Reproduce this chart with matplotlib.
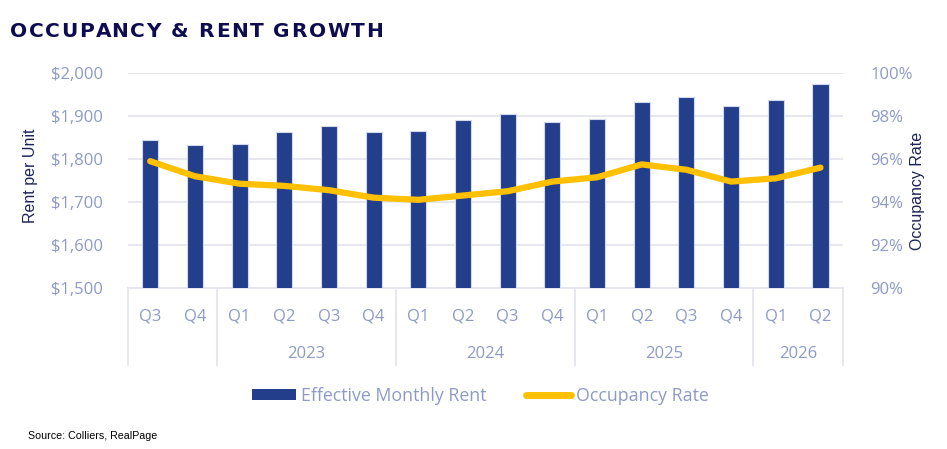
import matplotlib
matplotlib.use('Agg')
import matplotlib.pyplot as plt
from matplotlib.patches import Patch
from matplotlib.lines import Line2D
from matplotlib.ticker import FuncFormatter

# data
quarters = ['Q3', 'Q4', 'Q1', 'Q2', 'Q3', 'Q4', 'Q1', 'Q2', 'Q3', 'Q4',
            'Q1', 'Q2', 'Q3', 'Q4', 'Q1', 'Q2']
rent = [1844, 1833, 1836, 1862, 1877, 1862, 1866, 1891,
        1906, 1887, 1894, 1934, 1945, 1923, 1938, 1974]
occupancy = [95.9, 95.2, 94.85, 94.75, 94.55, 94.2, 94.1, 94.3,
             94.5, 94.95, 95.15, 95.75, 95.5, 94.95, 95.1, 95.6]
years = ['2023', '2024', '2025', '2026']
year_start = [2, 6, 10, 14]
year_end = [5, 9, 13, 15]

bar_color = '#233F8C'
line_color = '#FFC000'
tick_color = '#8D9AC6'
grid_color = '#E4E5EE'
label_color = '#1B2456'

fig = plt.figure(figsize=(9.47, 4.49), dpi=100)
ax = fig.add_axes([0.135, 0.359, 0.755, 0.478])
ax2 = ax.twinx()

x = list(range(len(quarters)))
ax.bar(x, rent, width=0.36, bottom=0, color=bar_color,
       edgecolor='#D3D8EA', linewidth=0.8, zorder=2)
ax.set_xlim(-0.5, len(quarters) - 0.5)
ax.set_ylim(1500, 2000)
ax.set_yticks(range(1500, 2001, 100))
ax.yaxis.set_major_formatter(FuncFormatter(lambda v, p: '${:,.0f}'.format(v)))
ax.yaxis.grid(True, color=grid_color, linewidth=1.3, zorder=0)
ax.set_axisbelow(True)

ax2.plot(x, occupancy, color=line_color, linewidth=4.5,
         solid_joinstyle='round', solid_capstyle='round', zorder=3)
ax2.set_ylim(90, 100)
ax2.set_yticks(range(90, 101, 2))
ax2.yaxis.set_major_formatter(FuncFormatter(lambda v, p: '{:.0f}%'.format(v)))

for a in (ax, ax2):
    for s in a.spines.values():
        s.set_visible(False)
    a.tick_params(axis='y', length=0, labelsize=12, labelcolor=tick_color)
    for lab in a.get_yticklabels():
        lab.set_fontfamily('Open Sans')
ax.tick_params(axis='y', pad=18)
ax2.tick_params(axis='y', pad=20)

ax.set_xticks(x)
ax.set_xticklabels(quarters, fontfamily='Open Sans')
ax.tick_params(axis='x', length=0, pad=15, labelsize=12, labelcolor=tick_color)

# category axis box with year separators
tr = ax.get_xaxis_transform()
ax.plot([-0.5, len(quarters) - 0.5], [0, 0], color=grid_color, lw=1.3,
        transform=tr, clip_on=False, zorder=1)
for sep in [-0.5, 1.5, 5.5, 9.5, 13.5, 15.5]:
    ax.plot([sep, sep], [0, -0.36], color=grid_color, lw=1.3,
            transform=tr, clip_on=False)
for yr, s, e in zip(years, year_start, year_end):
    ax.text((s + e) / 2, -0.307, yr, transform=tr, ha='center', va='center',
            fontsize=12, color=tick_color, fontfamily='Open Sans')

fig.text(0.032, 0.608, 'Rent per Unit', rotation=90, ha='center', va='center',
         fontsize=11.5, color=label_color, fontfamily='Liberation Sans')
fig.text(0.969, 0.574, 'Occupancy Rate', rotation=90, ha='center', va='center',
         fontsize=11.5, color=label_color, fontfamily='Liberation Sans')

# title with letter spacing: place each character by measuring the prefix
title = 'OCCUPANCY & RENT GROWTH'
title_kw = dict(fontsize=14.5, fontweight='bold', color='#0E0C50',
                fontfamily='DejaVu Sans', va='center', ha='left')
renderer = fig.canvas.get_renderer()
x0_px, track_px = 10, 1.6
for i, ch in enumerate(title):
    if i == 0:
        w = 0
    else:
        probe = fig.text(0, 0, title[:i] + '|', **title_kw)
        bar_probe = fig.text(0, 0, '|', **title_kw)
        w = probe.get_window_extent(renderer).width - bar_probe.get_window_extent(renderer).width
        probe.remove()
        bar_probe.remove()
    if ch != ' ':
        fig.text((x0_px + w + i * track_px) / fig.bbox.width, 0.929, ch, **title_kw)

handles = [Patch(facecolor=bar_color, edgecolor='none', label='Effective Monthly Rent'),
           Line2D([0], [0], color=line_color, lw=5, solid_capstyle='round',
                  label='Occupancy Rate')]
leg = fig.legend(handles=handles, loc='center', bbox_to_anchor=(0.507, 0.118),
                 ncol=2, frameon=False, handlelength=2.5, handleheight=0.6,
                 handletextpad=0.3, columnspacing=2.2,
                 prop={'family': 'Open Sans', 'size': 12.8})
for t in leg.get_texts():
    t.set_color(tick_color)

fig.text(0.03, 0.029, 'Source: Colliers, RealPage', ha='left', va='center',
         fontsize=7.7, color='black', fontfamily='Liberation Sans')

fig.savefig('out.png', dpi=100)
